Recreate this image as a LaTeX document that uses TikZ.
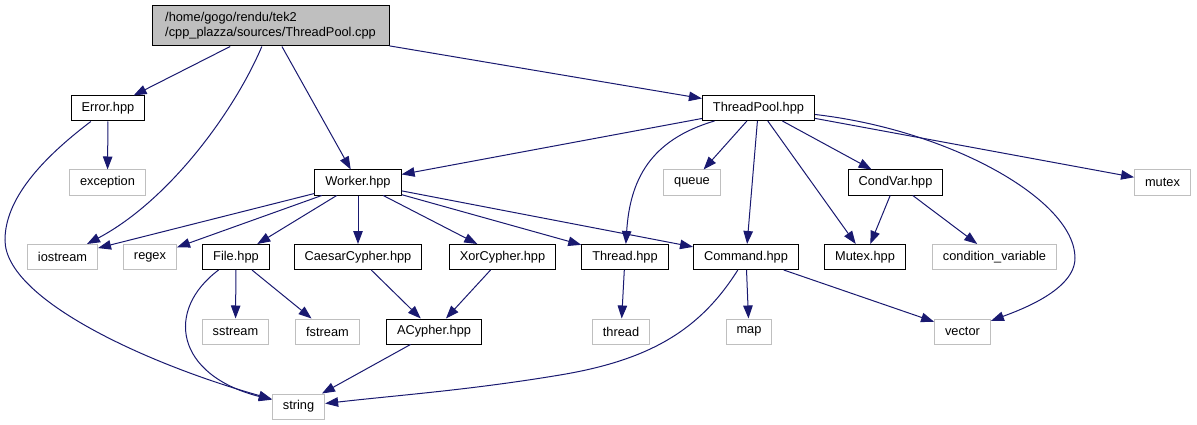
\documentclass[tikz,border=0pt]{standalone}
\usepackage{fontspec}
\setmainfont{Liberation Sans}
\usepackage{xcolor}
\definecolor{cEdge}{HTML}{191970}
\definecolor{cSys}{HTML}{BFBFBF}
\definecolor{cRoot}{HTML}{BFBFBF}
\usepackage{tikz}
\usetikzlibrary{arrows.meta}
\tikzset{
  node-base/.style={draw,line width=1pt,minimum height=25pt,inner xsep=10.5pt,
    inner ysep=0pt,font=\fontsize{12.8}{15}\selectfont},
  node-file/.style={node-base,draw=black},
  node-sys/.style={node-base,draw=cSys},
  node-root/.style={node-base,draw=black,fill=cRoot,minimum height=40pt,
    minimum width=237pt,align=left},
  arrow/.style={-{Triangle[length=13pt,width=9.5pt]},line width=1pt,draw=cEdge},
}

\begin{document}
\begin{tikzpicture}[x=1pt,y=-1pt]
  \useasboundingbox (0,0) rectangle (1197,425);
  % rank 0 / 1
  \node[node-root] (root) at (270.5,26) {/home/gogo/rendu/tek2\\/cpp\_plazza/sources/ThreadPool.cpp};
  \node[node-file] (err) at (108,108.5) {Error.hpp};
  \node[node-file] (tp) at (758.5,108) {ThreadPool.hpp};
  % rank 2
  \node[node-sys] (exc) at (107.5,182.5) {exception};
  \node[node-file] (wrk) at (358,182.5) {Worker.hpp};
  \node[node-sys] (que) at (692,182.5) {queue};
  \node[node-file] (cv) at (895.5,182.5) {CondVar.hpp};
  \node[node-sys] (mtx) at (1162.5,182.5) {mutex};
  % rank 3
  \node[node-sys] (ios) at (62.5,257) {iostream};
  \node[node-sys] (rgx) at (150,257) {regex};
  \node[node-file] (file) at (236,257) {File.hpp};
  \node[node-file] (caes) at (358,257) {CaesarCypher.hpp};
  \node[node-file] (xor) at (502.5,257) {XorCypher.hpp};
  \node[node-file] (thr) at (625,257) {Thread.hpp};
  \node[node-file] (cmd) at (746,257) {Command.hpp};
  \node[node-file] (mtxh) at (865,257) {Mutex.hpp};
  \node[node-sys] (cvar) at (994.5,257) {condition\_variable};
  % rank 4 / 5
  \node[node-sys] (sst) at (235.5,331.5) {sstream};
  \node[node-sys] (fst) at (327.5,331.5) {fstream};
  \node[node-file] (acy) at (434,331.5) {ACypher.hpp};
  \node[node-sys] (thrd) at (621,331.5) {thread};
  \node[node-sys] (map) at (749,331.5) {map};
  \node[node-sys] (vec) at (962.5,331.5) {vector};
  \node[node-sys] (str) at (298.5,406.5) {string};

  \draw[arrow] (root) -- (err);
  \draw[arrow] (root) .. controls (235,110) and (170,200) .. (ios);
  \draw[arrow] (root) -- (wrk);
  \draw[arrow] (root) -- (tp);
  \draw[arrow] (err) -- (exc);
  \draw[arrow] (err) .. controls (40,160) and (5,200) .. (5,240)
    .. controls (5,300) and (150,365) .. (str);
  \draw[arrow] (tp) -- (wrk);
  \draw[arrow] (tp) .. controls (650,140) and (630,180) .. (thr);
  \draw[arrow] (tp) -- (que);
  \draw[arrow] (tp) -- (cmd);
  \draw[arrow] (tp) -- (mtxh);
  \draw[arrow] (tp) -- (cv);
  \draw[arrow] (tp) .. controls (950,130) and (1075,200) .. (1075,258)
    .. controls (1075,290) and (1020,310) .. (vec);
  \draw[arrow] (tp) -- (mtx);
  \draw[arrow] (cv) -- (mtxh);
  \draw[arrow] (cv) -- (cvar);
  \draw[arrow] (wrk) -- (ios);
  \draw[arrow] (wrk) -- (rgx);
  \draw[arrow] (wrk) -- (file);
  \draw[arrow] (wrk) -- (caes);
  \draw[arrow] (wrk) -- (xor);
  \draw[arrow] (wrk) -- (thr);
  \draw[arrow] (wrk) -- (cmd);
  \draw[arrow] (file) .. controls (165,310) and (175,375) .. (str);
  \draw[arrow] (file) -- (sst);
  \draw[arrow] (file) -- (fst);
  \draw[arrow] (caes) -- (acy);
  \draw[arrow] (xor) -- (acy);
  \draw[arrow] (acy) -- (str);
  \draw[arrow] (thr) -- (thrd);
  \draw[arrow] (cmd) -- (map);
  \draw[arrow] (cmd) .. controls (700,330) and (650,360) .. (560,375)
    .. controls (470,390) and (400,395) .. (str);
  \draw[arrow] (cmd) -- (vec);
\end{tikzpicture}
\end{document}
